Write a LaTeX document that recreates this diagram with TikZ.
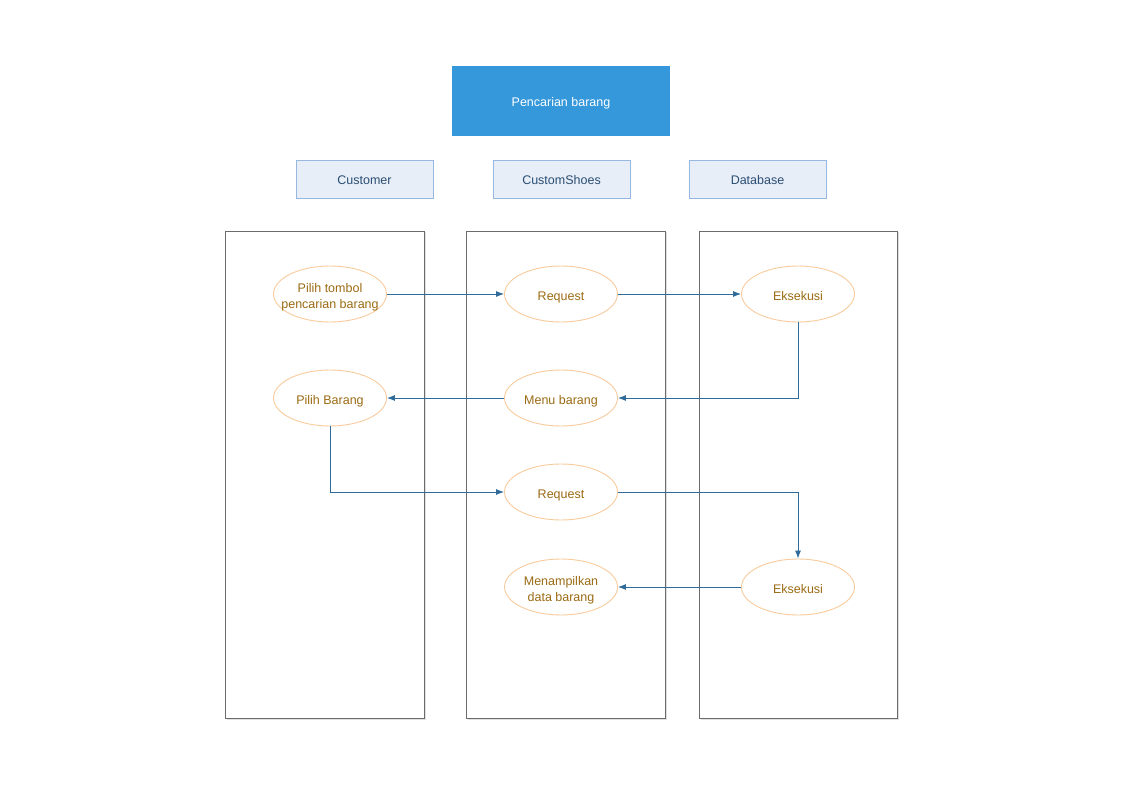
\documentclass[tikz,border=0pt]{standalone}
\usepackage{fontspec}
\setmainfont{Liberation Sans}
\usetikzlibrary{shapes.geometric,arrows.meta,shadows}

\definecolor{titleblue}{HTML}{3598DB}
\definecolor{headfill}{HTML}{E8EEF8}
\definecolor{headdraw}{HTML}{97B8E0}
\definecolor{headtext}{HTML}{2A4E72}
\definecolor{ovaldraw}{HTML}{F9CB9C}
\definecolor{ovaltext}{HTML}{9B6B14}
\definecolor{flowblue}{HTML}{2F6A99}
\definecolor{lanegray}{HTML}{6B6B6B}

\begin{document}
\begin{tikzpicture}[
  x=1pt, y=-1pt,
  lower/.style={text height=12pt, text depth=0pt},
  twolines/.style={text height=28.5pt, text depth=0pt},
  title/.style={
    fill=titleblue,
    text=white,
    minimum width=218pt,
    minimum height=70pt,
    lower,
    font=\fontsize{12.5}{15}\selectfont
  },
  head/.style={
    draw=headdraw,
    fill=headfill,
    text=headtext,
    minimum width=137pt,
    minimum height=38pt,
    lower,
    font=\fontsize{12.5}{15}\selectfont
  },
  lane/.style={
    draw=lanegray,
    fill=white,
    line width=0.9pt,
    drop shadow={shadow xshift=1.5pt, shadow yshift=-1.5pt, fill=black!12, opacity=1}
  },
  oval/.style={
    ellipse,
    draw=ovaldraw,
    fill=white,
    text=ovaltext,
    align=center,
    minimum width=113pt,
    minimum height=56pt,
    inner sep=0pt,
    line width=0.9pt,
    lower,
    font=\fontsize{12.5}{16}\selectfont
  },
  arrow/.style={-{Latex[length=8pt,width=6pt]}, draw=flowblue, line width=0.9pt}
]
\useasboundingbox (0,0) rectangle (1123,794);

% header
\node[title] (judul) at (561,101) {Pencarian barang};
\node[head] (customer) at (364.5,179) {Customer};
\node[head] (shoes) at (561.5,179) {CustomShoes};
\node[head] (database) at (757.5,179) {Database};

% swimlanes
\path[lane] (225,231) rectangle (424,718);
\path[lane] (466,231) rectangle (665,718);
\path[lane] (699,231) rectangle (897,718);

% activities
\node[oval, twolines, inner xsep=-9pt] (tombol) at (330,294) {Pilih tombol\\pencarian barang};
\node[oval] (request1) at (561,294) {Request};
\node[oval] (eksekusi1) at (798,294) {Eksekusi};
\node[oval] (pilih) at (330,398) {Pilih Barang};
\node[oval] (menu) at (561,398) {Menu barang};
\node[oval] (request2) at (561,492) {Request};
\node[oval] (eksekusi2) at (798,587) {Eksekusi};
\node[oval, twolines] (tampil) at (561,587) {Menampilkan\\data barang};

\draw[arrow] (tombol) -- (request1);
\draw[arrow] (request1) -- (eksekusi1);
\draw[arrow] (eksekusi1.south) |- (menu.east);
\draw[arrow] (menu) -- (pilih);
\draw[arrow] (pilih.south) |- (request2.west);
\draw[arrow] (request2.east) -| (eksekusi2.north);
\draw[arrow] (eksekusi2) -- (tampil);
\end{tikzpicture}
\end{document}
